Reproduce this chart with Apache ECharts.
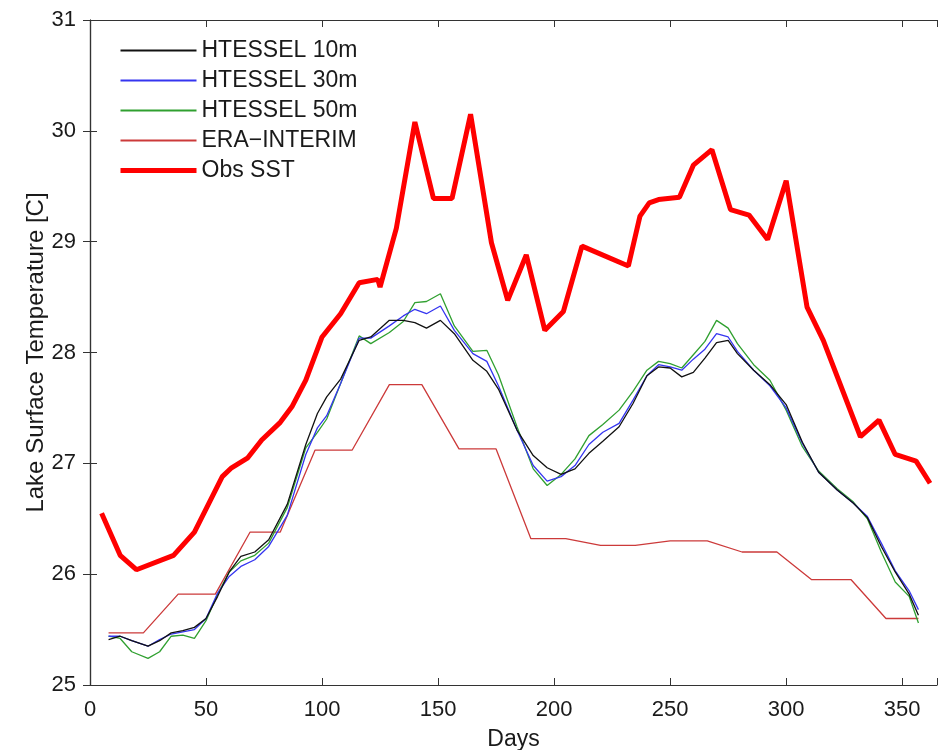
<!DOCTYPE html>
<html>
<head>
<meta charset="utf-8">
<title>Lake Surface Temperature</title>
<script src="https://cdn.jsdelivr.net/npm/echarts@6/dist/echarts.min.js"></script>
<style>
  html, body { margin: 0; padding: 0; background: #fff; }
  #chart { width: 940px; height: 750px; }
</style>
</head>
<body>
<div id="chart"></div>
<script>
// model output days (HTESSEL runs)
var modelDays = [8, 13, 18, 25, 30, 35, 40, 45, 50, 55, 60, 65, 71, 77, 85, 93, 98, 102, 108, 116,
    121, 129, 135, 140, 145, 151, 157, 165, 171, 176, 184, 191, 197, 203, 209, 215, 221, 228, 234, 240,
    245, 250, 255, 260, 265, 270, 275, 279, 286, 293, 300, 307, 314, 322, 329, 335, 341, 347, 353, 357];
var htessel10 = [25.41, 25.44, 25.40, 25.35, 25.40, 25.47, 25.49, 25.52, 25.60, 25.80, 26.02, 26.16, 26.20, 26.31, 26.63, 27.17, 27.45, 27.60, 27.76, 28.11,
    28.14, 28.29, 28.29, 28.27, 28.22, 28.29, 28.17, 27.93, 27.83, 27.67, 27.30, 27.07, 26.96, 26.90, 26.95, 27.09, 27.20, 27.33, 27.54, 27.79,
    27.87, 27.86, 27.78, 27.82, 27.95, 28.09, 28.11, 27.99, 27.84, 27.71, 27.53, 27.19, 26.92, 26.76, 26.64, 26.51, 26.25, 26.02, 25.82, 25.63];
var htessel30 = [25.44, 25.44, 25.40, 25.35, 25.41, 25.46, 25.48, 25.50, 25.60, 25.83, 25.98, 26.07, 26.13, 26.25, 26.53, 27.08, 27.32, 27.43, 27.72, 28.13,
    28.13, 28.24, 28.33, 28.39, 28.35, 28.42, 28.20, 27.99, 27.92, 27.70, 27.30, 26.98, 26.84, 26.88, 26.98, 27.17, 27.28, 27.36, 27.57, 27.79,
    27.89, 27.87, 27.84, 27.94, 28.03, 28.17, 28.14, 28.01, 27.84, 27.70, 27.50, 27.18, 26.92, 26.76, 26.64, 26.52, 26.28, 26.03, 25.85, 25.68];
var htessel50 = [25.44, 25.42, 25.30, 25.24, 25.30, 25.44, 25.45, 25.42, 25.58, 25.82, 26.02, 26.12, 26.17, 26.28, 26.60, 27.14, 27.28, 27.40, 27.72, 28.15,
    28.08, 28.18, 28.28, 28.45, 28.46, 28.53, 28.24, 28.01, 28.02, 27.80, 27.33, 26.95, 26.80, 26.90, 27.04, 27.25, 27.35, 27.48, 27.65, 27.84,
    27.92, 27.90, 27.86, 27.98, 28.10, 28.29, 28.22, 28.08, 27.89, 27.75, 27.48, 27.15, 26.93, 26.77, 26.65, 26.50, 26.20, 25.93, 25.80, 25.56];

// ERA-INTERIM
var eraDays = [8, 23, 38, 54, 69, 82, 97, 113, 129, 143, 159, 175, 190, 205, 220, 235, 250, 266, 281, 296, 311, 328, 343, 357];
var eraValues = [25.47, 25.47, 25.82, 25.82, 26.38, 26.38, 27.12, 27.12, 27.71, 27.71, 27.13, 27.13, 26.32, 26.32,
    26.26, 26.26, 26.30, 26.30, 26.20, 26.20, 25.95, 25.95, 25.60, 25.60];

// observed SST
var obsDays = [5, 13, 20, 36, 45, 51, 57, 61, 68, 74, 82, 87, 93, 100, 108, 116, 124, 125, 132, 140, 148, 156, 164,
    173, 180, 188, 196, 204, 212, 232, 237, 241, 245, 254, 260, 268, 276, 284, 292, 300, 309, 316, 332, 340, 347, 356, 362];
var obsValues = [26.55, 26.17, 26.04, 26.17, 26.38, 26.63, 26.88, 26.96, 27.05, 27.21, 27.37, 27.51, 27.75, 28.14, 28.35, 28.63,
    28.66, 28.59, 29.12, 30.08, 29.39, 29.39, 30.15, 28.99, 28.47, 28.88, 28.20, 28.37, 28.96, 28.78, 29.23, 29.35, 29.38,
    29.40, 29.69, 29.83, 29.29, 29.24, 29.02, 29.55, 28.41, 28.11, 27.24, 27.39, 27.08, 27.02, 26.82];

function pairs(xs, ys) {
    var out = [];
    for (var i = 0; i < xs.length; i++) {
        out.push([xs[i], ys[i]]);
    }
    return out;
}

var font = 'Liberation Sans, Arial, sans-serif';
var axisColor = '#333';
var textColor = '#1a1a1a';

function lineSeries(name, data, color, width) {
    return {
        name: name,
        type: 'line',
        data: data,
        symbol: 'none',
        animation: false,
        lineStyle: {color: color, width: width},
        itemStyle: {color: color}
    };
}

var chart = echarts.init(document.getElementById('chart'));
chart.setOption({
    backgroundColor: '#fff',
    animation: false,
    grid: {left: 90, right: 3, top: 20, bottom: 65, outerBoundsMode: 'none', containLabel: false},
    legend: {
        orient: 'vertical',
        left: 113,
        top: 34,
        itemWidth: 76,
        itemHeight: 20,
        itemGap: 7,
        itemStyle: {opacity: 0},
        textStyle: {fontFamily: font, fontSize: 23, color: textColor},
        data: [
            {name: 'HTESSEL 10m'},
            {name: 'HTESSEL 30m'},
            {name: 'HTESSEL 50m'},
            {name: 'ERA\u2212INTERIM'},
            {name: 'Obs SST', lineStyle: {width: 5}}
        ]
    },
    xAxis: [{
        type: 'value',
        min: 0,
        max: 365,
        interval: 50,
        name: 'Days',
        nameLocation: 'middle',
        nameGap: 43,
        nameTextStyle: {fontFamily: font, fontSize: 23, color: textColor},
        axisLine: {show: true, lineStyle: {color: axisColor, width: 1.2}},
        axisTick: {show: true, inside: true, length: 7, lineStyle: {color: axisColor}},
        axisLabel: {
            fontFamily: font, fontSize: 22, color: textColor, margin: 14,
            formatter: function (v) { return v % 50 === 0 ? String(v) : ''; }
        },
        splitLine: {show: false}
    }, {
        type: 'value',
        position: 'top',
        min: 0,
        max: 365,
        interval: 50,
        axisLine: {show: true, lineStyle: {color: axisColor, width: 1.2}},
        axisTick: {show: true, inside: true, length: 7, lineStyle: {color: axisColor}},
        axisLabel: {show: false},
        splitLine: {show: false}
    }],
    yAxis: [{
        type: 'value',
        min: 25,
        max: 31,
        interval: 1,
        name: 'Lake Surface Temperature [C]',
        nameLocation: 'middle',
        nameGap: 42,
        nameMoveOverlap: false,
        nameTextStyle: {fontFamily: font, fontSize: 24, color: textColor},
        axisLine: {show: true, lineStyle: {color: axisColor, width: 1.2}},
        axisTick: {show: true, inside: true, length: 7, lineStyle: {color: axisColor}},
        axisLabel: {fontFamily: font, fontSize: 22, color: textColor, margin: 14},
        splitLine: {show: false}
    }, {
        type: 'value',
        position: 'right',
        min: 25,
        max: 31,
        interval: 1,
        axisLine: {show: true, lineStyle: {color: axisColor, width: 1.2}},
        axisTick: {show: true, inside: true, length: 7, lineStyle: {color: axisColor}},
        axisLabel: {show: false},
        splitLine: {show: false}
    }],
    series: [
        lineSeries('ERA\u2212INTERIM', pairs(eraDays, eraValues), '#cc3a3a', 1.3),
        lineSeries('HTESSEL 50m', pairs(modelDays, htessel50), '#30a030', 1.3),
        lineSeries('HTESSEL 30m', pairs(modelDays, htessel30), '#3535f0', 1.3),
        lineSeries('HTESSEL 10m', pairs(modelDays, htessel10), '#111111', 1.3),
        lineSeries('Obs SST', pairs(obsDays, obsValues), '#ff0000', 5)
    ]
});
</script>
</body>
</html>
